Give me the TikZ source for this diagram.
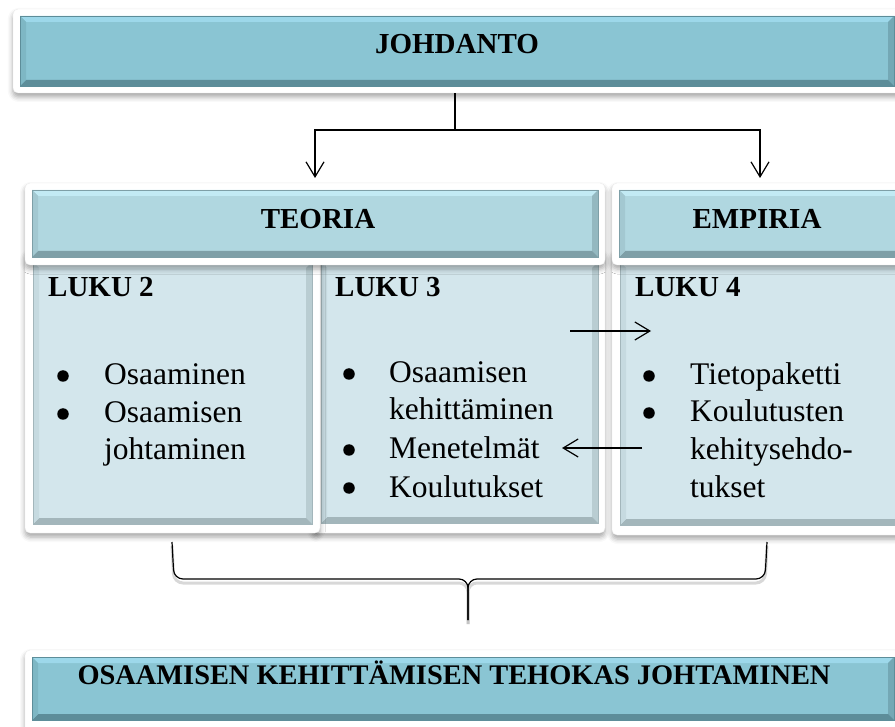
\documentclass[tikz,border=0pt]{standalone}
\usepackage{fontspec}
\setmainfont{Liberation Serif}
\usetikzlibrary{arrows.meta,shadows.blur,fit}

% panel colours: base, top edge, right edge, bottom edge, left edge
\definecolor{dkBase}{HTML}{8AC5D3}
\definecolor{dkTop}{HTML}{9DD8EA}
\definecolor{dkRight}{HTML}{74A8B5}
\definecolor{dkBottom}{HTML}{5D8D99}
\definecolor{dkLeft}{HTML}{7EB7C4}
\definecolor{ltBase}{HTML}{B0D7E0}
\definecolor{ltTop}{HTML}{C2EAF4}
\definecolor{ltRight}{HTML}{94B8C0}
\definecolor{ltBottom}{HTML}{7E9FA7}
\definecolor{ltLeft}{HTML}{A3C8D1}
\definecolor{pnBase}{HTML}{D3E6EC}
\definecolor{pnTop}{HTML}{DDEEF3}
\definecolor{pnRight}{HTML}{B9CDD2}
\definecolor{pnBottom}{HTML}{A3B6BB}
\definecolor{pnLeft}{HTML}{C6DAE0}

% bevelled panel: x1 y1 x2 y2 and colour prefix
\newcommand{\bevpanel}[5]{%
  \fill[#5Base] (#1,#2) rectangle (#3,#4);
  \fill[#5Top] (#1,#2) -- (#3,#2) -- ({#3-6},{#2+6}) -- ({#1+6},{#2+6}) -- cycle;
  \fill[#5Right] (#3,#2) -- (#3,#4) -- ({#3-6},{#4-6}) -- ({#3-6},{#2+6}) -- cycle;
  \fill[#5Bottom] (#1,#4) -- (#3,#4) -- ({#3-6},{#4-6}) -- ({#1+6},{#4-6}) -- cycle;
  \fill[#5Left] (#1,#2) -- (#1,#4) -- ({#1+6},{#4-6}) -- ({#1+6},{#2+6}) -- cycle;
  \draw[#5Bottom, line width=0.6pt] (#1,#2) rectangle (#3,#4);
}

\tikzset{
  frame/.style={fill=white, draw=black!8, line width=0.4pt, rounded corners=5pt,
    inner sep=0pt,
    blur shadow={shadow xshift=0pt, shadow yshift=-4pt, shadow blur radius=5pt, shadow opacity=35}},
  body/.style={font=\fontsize{31.5}{37}\selectfont, inner sep=0pt, text=black},
  head/.style={font=\fontsize{29}{37}\selectfont\bfseries, inner sep=0pt, text=black},
  dot/.style={circle, fill=black, inner sep=0pt, minimum size=11.5pt},
  conn/.style={line width=1.2pt, -{Straight Barb[length=15pt,width=18pt]}},
  bracepath/.style={line width=1.2pt, rounded corners=9pt},
}

\begin{document}
\begin{tikzpicture}[x=1pt, y=-1pt]
\useasboundingbox (0,0) rectangle (895,727);
\clip (0,0) rectangle (895,727);

% introduction bar
\node[frame, fit={(13,9) (905,93)}] (jfr) {};
\bevpanel{20}{16}{894}{86}{dk}
\node[head, anchor=base] (johdanto) at (457,54) {JOHDANTO};

% chapter columns
\node[frame, fit={(312,250) (605,533)}] (l3fr) {};
\bevpanel{321}{262}{598}{523}{pn}
\node[frame, fit={(25,250) (320,533)}] (l2fr) {};
\bevpanel{33}{262}{312}{524}{pn}
\node[frame, fit={(612,250) (905,535)}] (l4fr) {};
\bevpanel{620}{262}{905}{525}{pn}

% section headers
\node[frame, fit={(25,183) (605,265)}] (tfr) {};
\bevpanel{32}{190}{598}{257}{lt}
\node[frame, fit={(612,183) (905,265)}] (efr) {};
\bevpanel{619}{190}{905}{257}{lt}
\node[head, anchor=base] (teoria) at (318,229) {TEORIA};
\node[head, anchor=base] (empiria) at (757,229) {EMPIRIA};

% chapter 2
\node[head, anchor=base west] (luku2) at (48,297) {LUKU 2};
\node[dot] (b2a) at (63,376) {};
\node[body, anchor=base west] (t2a) at (104,385) {Osaaminen};
\node[dot] (b2b) at (63,414) {};
\node[body, anchor=base west] (t2b) at (104,423) {Osaamisen};
\node[body, anchor=base west] (t2c) at (104,460) {johtaminen};

% chapter 3
\node[head, anchor=base west] (luku3) at (335,297) {LUKU 3};
\node[dot] (b3a) at (349,374) {};
\node[body, anchor=base west] (t3a) at (389,383) {Osaamisen};
\node[body, anchor=base west] (t3b) at (389,420) {kehittäminen};
\node[dot] (b3c) at (349,450) {};
\node[body, anchor=base west] (t3c) at (389,459) {Menetelmät};
\node[dot] (b3d) at (349,488) {};
\node[body, anchor=base west] (t3d) at (389,497) {Koulutukset};

% chapter 4
\node[head, anchor=base west] (luku4) at (635,297) {LUKU 4};
\node[dot] (b4a) at (649,376) {};
\node[body, anchor=base west] (t4a) at (690,385) {Tietopaketti};
\node[dot] (b4b) at (649,413) {};
\node[body, anchor=base west] (t4b) at (690,422) {Koulutusten};
\node[body, anchor=base west] (t4c) at (690,460) {kehitysehdo-};
\node[body, anchor=base west] (t4d) at (690,497) {tukset};

% split from the introduction into theory and empirical part
\coordinate (fork) at (455,130);
\coordinate (tin) at (315,178);
\coordinate (ein) at (760,178);
\draw[line width=1.2pt] (jfr.south -| fork) -- (fork);
\draw[conn] (fork) -| (tin);
\draw[conn] (fork) -| (ein);

% exchange between chapters 3 and 4
\coordinate (r3) at (570,331);
\coordinate (l4in) at (651,331);
\coordinate (r4) at (642,448);
\coordinate (l3in) at (562,448);
\draw[conn] (r3) -- (l4in);
\draw[conn] (r4) -- (l3in);

% brace gathering the chapters
\coordinate (brl) at (172,542);
\coordinate (brr) at (767,542);
\coordinate (brtip) at (468,620);
\begin{scope}[black!30, opacity=0.5, line width=3pt, rounded corners=9pt, transform canvas={yshift=-4pt}]
  \draw (brl) -- (174,579) -- (468,579) -- (brtip);
  \draw (brtip) -- (468,579) -- (765,579) -- (brr);
\end{scope}
\draw[bracepath] (brl) -- (174,579) -- (468,579) -- (brtip);
\draw[bracepath] (brtip) -- (468,579) -- (765,579) -- (brr);

% conclusion bar
\node[frame, fit={(25,650) (905,735)}] (cfr) {};
\bevpanel{32}{657}{894}{720}{dk}
\node[head, font=\fontsize{28.4}{34}\selectfont\bfseries, anchor=base] (tulos) at (454,684) {OSAAMISEN KEHITTÄMISEN TEHOKAS JOHTAMINEN};
\end{tikzpicture}
\end{document}
